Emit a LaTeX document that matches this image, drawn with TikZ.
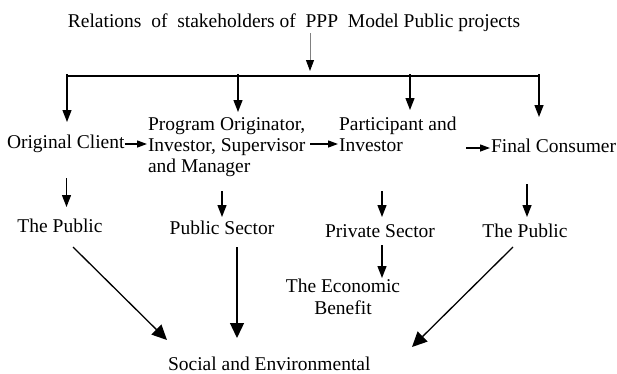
\documentclass[tikz,border=0pt]{standalone}
\usepackage{fontspec}
\setmainfont{Liberation Serif}
\usetikzlibrary{arrows.meta}
\begin{document}
\begin{tikzpicture}[x=1pt,y=-1pt,
  lbl/.style={font=\fontsize{19.5}{21}\selectfont, inner sep=0pt, outer sep=0pt},
  ln/.style={line width=1.3pt, black},
  arrS/.style={ln, -{Triangle[length=10pt,width=7pt]}},
  arrM/.style={ln, -{Triangle[length=12pt,width=9pt]}},
  arrL/.style={ln, -{Triangle[length=15pt,width=14pt]}},
  arrG/.style={line width=0.8pt, gray, -{Triangle[length=11pt,width=8pt,color=black]}}]
\useasboundingbox (0,0) rectangle (617,373);
% texts
\node[lbl, anchor=base] (title) at (294,27) {Relations\ \ of\ \ stakeholders of\ \ PPP\ \ Model Public projects};
\node[lbl, anchor=base west] (oc) at (7,148) {Original Client};
\node[lbl, anchor=base west] (prog) at (148,130) {\begin{tabular}[t]{@{}l@{}}Program Originator,\\Investor, Supervisor\\and Manager\end{tabular}};
\node[lbl, anchor=base west] (part) at (339,130) {\begin{tabular}[t]{@{}l@{}}Participant and\\Investor\end{tabular}};
\node[lbl, anchor=base west] (fc) at (491,152) {Final Consumer};
\node[lbl, anchor=base] (pub1) at (60,232) {The Public};
\node[lbl, anchor=base] (pubs) at (222,234) {Public Sector};
\node[lbl, anchor=base] (pris) at (380,237) {Private Sector};
\node[lbl, anchor=base] (pub2) at (525,237) {The Public};
\node[lbl, anchor=base, font=\fontsize{19.5}{22}\selectfont] (econ) at (343,292) {\begin{tabular}[t]{@{}c@{}}The Economic\\Benefit\end{tabular}};
\node[lbl, anchor=base west] (soc) at (168,370) {Social and Environmental};
% tree coordinates
\coordinate (ts) at (310,33);
\coordinate (te) at (310,71);
\coordinate (b1) at (67,74);   \coordinate (d1) at (67,122);
\coordinate (b2) at (238,74);  \coordinate (d2) at (238,112);
\coordinate (b3) at (410,74);  \coordinate (d3) at (410,110);
\coordinate (b4) at (539,74);  \coordinate (d4) at (539,117);
\coordinate (bl) at (66.4,76); \coordinate (br) at (539.6,76);
% horizontal arrow coordinates
\coordinate (h1s) at (oc.base east); \coordinate (h1e) at (147,144);
\coordinate (h2s) at (310,144); \coordinate (h2e) at (338,144);
\coordinate (h3s) at (466,148); \coordinate (h3e) at (490,148);
% row 2 drops
\coordinate (r1s) at (66.5,178); \coordinate (r1e) at (66.5,207);
\coordinate (r2s) at (222,191);  \coordinate (r2e) at (222,217);
\coordinate (r3s) at (382,191);  \coordinate (r3e) at (382,217);
\coordinate (r4s) at (527,184);  \coordinate (r4e) at (527,217);
% row 3
\coordinate (q1s) at (73,247);  \coordinate (q1e) at (167,340);
\coordinate (q2s) at (237,247); \coordinate (q2e) at (237,338);
\coordinate (q3s) at (382,245); \coordinate (q3e) at (382,278);
\coordinate (q4s) at (513,247); \coordinate (q4e) at (412,347);
% drawing
\draw[arrG] (ts) -- (te);
\draw[ln] (bl) -- (br);
\draw[arrM] (b1) -- (d1);
\draw[arrM] (b2) -- (d2);
\draw[arrM] (b3) -- (d3);
\draw[arrM] (b4) -- (d4);
\draw[arrS] ([yshift=4pt]h1s) -- (h1e);
\draw[arrS] (h2s) -- (h2e);
\draw[arrS] (h3s) -- (h3e);
\draw[arrM] (r1s) -- (r1e);
\draw[arrM] (r2s) -- (r2e);
\draw[arrM] (r3s) -- (r3e);
\draw[arrM] (r4s) -- (r4e);
\draw[arrL] (q1s) -- (q1e);
\draw[arrL] (q2s) -- (q2e);
\draw[arrM] (q3s) -- (q3e);
\draw[arrL] (q4s) -- (q4e);
\end{tikzpicture}
\end{document}
